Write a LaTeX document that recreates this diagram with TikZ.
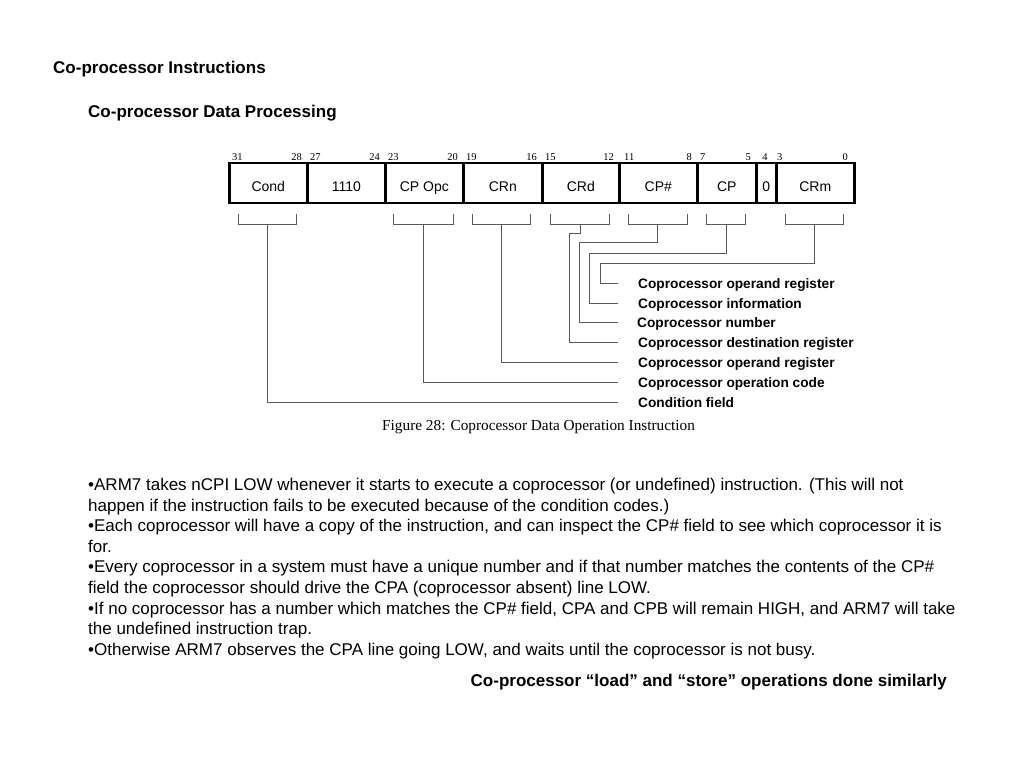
\documentclass[tikz,border=0pt]{standalone}
\usepackage{fontspec}
\setmainfont{Liberation Sans}
\newfontfamily\figserif{Liberation Serif}
\begin{document}
\begin{tikzpicture}[x=1pt,y=-1pt,
  field/.style={draw,line width=2.6pt,rectangle,minimum height=40pt,inner sep=0pt,anchor=west,text height=20pt,text depth=3pt,font=\fontsize{14}{16}\selectfont},
  bitno/.style={inner sep=0pt,font=\figserif\fontsize{10.5}{12}\selectfont},
  brk/.style={draw=black!65,line width=0.9pt},
  conn/.style={draw=black!65,line width=0.9pt},
  lab/.style={inner sep=0pt,anchor=base west,font=\bfseries\fontsize{13.7}{16}\selectfont},
  body/.style={inner sep=0pt,anchor=base west,font=\fontsize{17}{20}\selectfont},
  title/.style={inner sep=0pt,anchor=base west,font=\bfseries\fontsize{17}{20}\selectfont}
]
\useasboundingbox[fill=white] (0,0) rectangle (1024,768);

\node[title] (t1) at (53,73.5) {Co-processor Instructions};
\node[title] (t2) at (88,117) {Co-processor Data Processing};

% fields
\node[field,minimum width=78pt] (cond) at (228,183) {Cond};
\node[field,minimum width=78pt] (op) at (306,183) {1110};
\node[field,minimum width=78pt] (opc) at (384,183) {CP Opc};
\node[field,minimum width=79pt] (crn) at (462,183) {CRn};
\node[field,minimum width=77pt] (crd) at (541,183) {CRd};
\node[field,minimum width=78pt] (cpn) at (618,183) {CP\#};
\node[field,minimum width=59pt] (cp) at (696,183) {CP};
\node[field,minimum width=20pt] (zero) at (755,183) {0};
\node[field,minimum width=78pt] (crm) at (775,183) {CRm};

% bit numbers
\node[bitno,anchor=base west] (b31) at (232,160) {31};
\node[bitno,anchor=base east] (b28) at (302,160) {28};
\node[bitno,anchor=base west] (b27) at (310,160) {27};
\node[bitno,anchor=base east] (b24) at (380,160) {24};
\node[bitno,anchor=base west] (b23) at (388,160) {23};
\node[bitno,anchor=base east] (b20) at (458,160) {20};
\node[bitno,anchor=base west] (b19) at (466,160) {19};
\node[bitno,anchor=base east] (b16) at (537,160) {16};
\node[bitno,anchor=base west] (b15) at (545,160) {15};
\node[bitno,anchor=base east] (b12) at (614,160) {12};
\node[bitno,anchor=base west] (b11) at (624,160) {11};
\node[bitno,anchor=base east] (b8) at (692,160) {8};
\node[bitno,anchor=base west] (b7) at (700,160) {7};
\node[bitno,anchor=base east] (b5) at (751,160) {5};
\node[bitno,anchor=base] (b4) at (765,160) {4};
\node[bitno,anchor=base west] (b3) at (777,160) {3};
\node[bitno,anchor=base east] (b0) at (848,160) {0};

% brackets
\draw[brk] (238,214) -- (238,224) -- (296,224) -- (296,214);
\draw[brk] (393,214) -- (393,224) -- (453,224) -- (453,214);
\draw[brk] (472,214) -- (472,224) -- (530,224) -- (530,214);
\draw[brk] (550,214) -- (550,224) -- (609,224) -- (609,214);
\draw[brk] (628,214) -- (628,224) -- (687,224) -- (687,214);
\draw[brk] (706,214) -- (706,224) -- (745,224) -- (745,214);
\draw[brk] (785,214) -- (785,224) -- (843,224) -- (843,214);

\coordinate (scond) at (267,224);
\coordinate (sopc) at (423,224);
\coordinate (scrn) at (501,224);
\coordinate (scrd) at (580,224);
\coordinate (scpn) at (657,224);
\coordinate (scp) at (726,224);
\coordinate (scrm) at (814,224);

% label ends
\coordinate (e1) at (618,283);
\coordinate (e2) at (618,303);
\coordinate (e3) at (618,322);
\coordinate (e4) at (618,342);
\coordinate (e5) at (618,362);
\coordinate (e6) at (618,382);
\coordinate (e7) at (618,402);

\node[lab] (l1) at (638,288) {Coprocessor operand register};
\node[lab] (l2) at (638,308) {Coprocessor information};
\node[lab] (l3) at (637,327) {Coprocessor number};
\node[lab] (l4) at (638,347) {Coprocessor destination register};
\node[lab] (l5) at (638,367) {Coprocessor operand register};
\node[lab] (l6) at (638,387) {Coprocessor operation code};
\node[lab] (l7) at (638,407) {Condition field};

% connectors
\draw[conn] (scrm) |- (600,263) |- (e1);
\draw[conn] (scp) |- (589,253) |- (e2);
\draw[conn] (scpn) |- (579,242) |- (e3);
\draw[conn] (scrd) |- (569,233) |- (e4);
\draw[conn] (scrn) |- (e5);
\draw[conn] (sopc) |- (e6);
\draw[conn] (scond) |- (e7);

\node[inner sep=0pt,anchor=base west,font=\figserif\fontsize{15.3}{17}\selectfont] (cap) at (382,430) {Figure 28: Coprocessor Data Operation Instruction};

% body text
\node[body] (p1) at (88,490.5) {•ARM7 takes nCPI LOW whenever it starts to execute a coprocessor (or undefined) instruction. (This will not};
\node[body] (p2) at (88,511.1) {happen if the instruction fails to be executed because of the condition codes.)};
\node[body] (p3) at (88,531.7) {•Each coprocessor will have a copy of the instruction, and can inspect the CP\# field to see which coprocessor it is};
\node[body] (p4) at (88,552.3) {for.};
\node[body] (p5) at (88,572.9) {•Every coprocessor in a system must have a unique number and if that number matches the contents of the CP\#};
\node[body] (p6) at (88,593.5) {field the coprocessor should drive the CPA (coprocessor absent) line LOW.};
\node[body] (p7) at (88,614.1) {•If no coprocessor has a number which matches the CP\# field, CPA and CPB will remain HIGH, and ARM7 will take};
\node[body] (p8) at (88,634.7) {the undefined instruction trap.};
\node[body] (p9) at (88,655.3) {•Otherwise ARM7 observes the CPA line going LOW, and waits until the coprocessor is not busy.};
\node[inner sep=0pt,anchor=base east,font=\bfseries\fontsize{17}{20}\selectfont] (fin) at (947,686) {Co-processor “load” and “store” operations done similarly};
\end{tikzpicture}
\end{document}
